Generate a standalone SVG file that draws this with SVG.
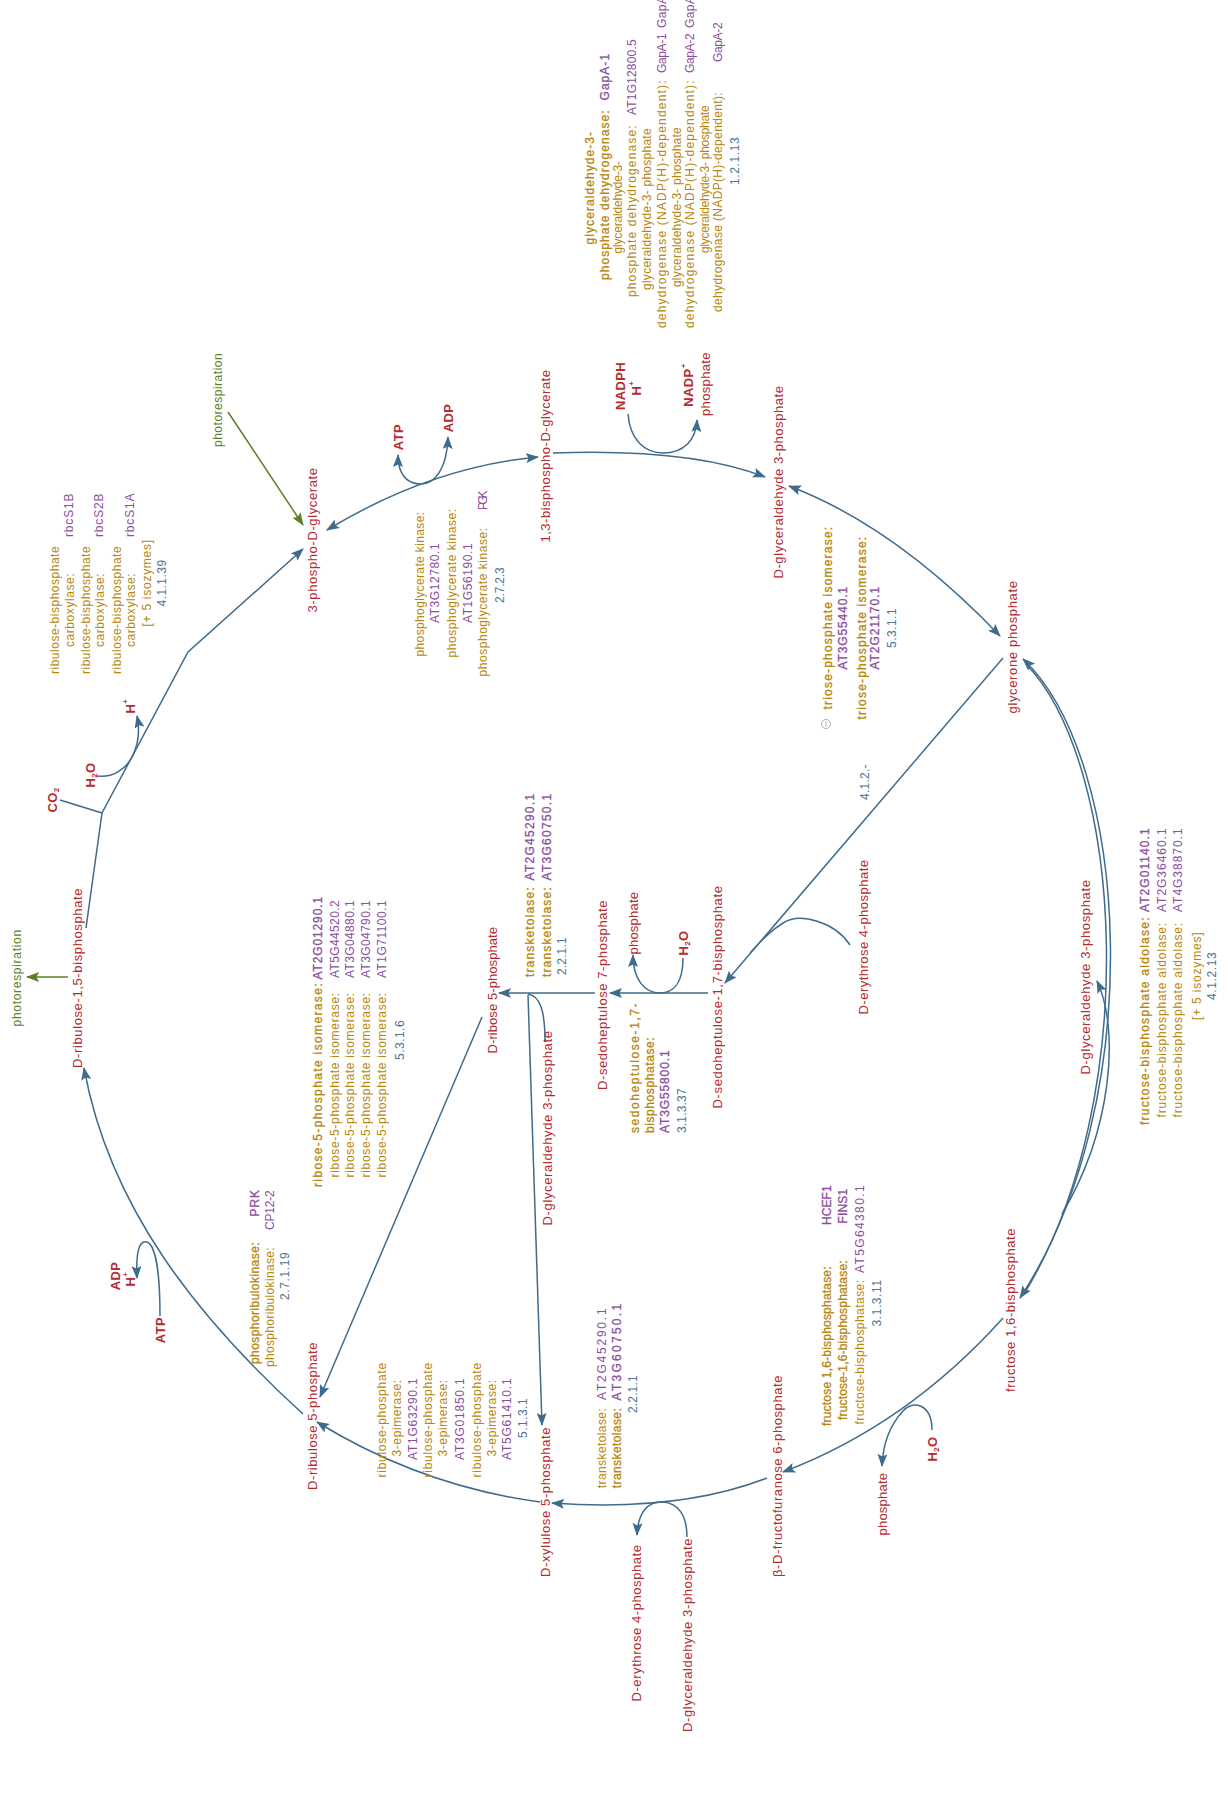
<svg xmlns="http://www.w3.org/2000/svg" width="1228" height="1805" viewBox="0 0 1228 1805">
<style>
text{font-family:"Liberation Sans",Arial,sans-serif;text-anchor:middle;dominant-baseline:central}
.c{font-size:13px;fill:#b42b30;letter-spacing:.5px}
.cb{font-size:13px;fill:#b42b30;font-weight:bold;letter-spacing:.4px}
.e{font-size:12px;fill:#b8860b;letter-spacing:.4px}
.g{font-size:12px;fill:#8a4f9e;letter-spacing:.4px}
.n{font-size:12px;fill:#4e7498;letter-spacing:.4px}
.e.b{stroke:#b8860b;stroke-width:.3px}
.g.b{stroke:#8a4f9e;stroke-width:.3px}
.s{text-anchor:start}
.gr{font-size:12px;fill:#5b7f24;letter-spacing:.3px}
.ln{fill:none;stroke:#3f6b8c;stroke-width:1.5}
.ae{marker-end:url(#a)}
.as{marker-start:url(#a)}
.gl{fill:none;stroke:#5b7f24;stroke-width:1.5;marker-end:url(#ga)}
</style>
<defs>
<marker id="a" viewBox="0 0 13 10" refX="12" refY="5" markerWidth="13" markerHeight="10" markerUnits="userSpaceOnUse" orient="auto-start-reverse"><path d="M0,0 L13,5 L0,10 L2.5,5 z" fill="#3f6b8c"/></marker>
<marker id="ga" viewBox="0 0 13 10" refX="12" refY="5" markerWidth="13" markerHeight="10" markerUnits="userSpaceOnUse" orient="auto"><path d="M0,0 L13,5 L0,10 L2.5,5 z" fill="#5b7f24"/></marker>
</defs>
<rect width="1228" height="1805" fill="#fff"/>

<g id="connectors">
<path class="ln ae" d="M86,928 L102,813 L188,652 L303,549"/>
<path class="ln" d="M60,800 L102,813"/>
<path class="ln ae" d="M97,776 C112,778 126,770 133,755 C139,742 140,730 137,716"/>
<path class="gl" d="M228,412 L303,525"/>
<path class="gl" d="M68,977 L27,977"/>
<path class="ln as ae" d="M327,530 Q431,467 538,457"/>
<path class="ln as ae" d="M398,455 C398,478 410,484 421,484 C434,484 447,470 448,437"/>
<path class="ln ae" d="M553,453 Q690,448 765,477"/>
<path class="ln ae" d="M628,414 C630,440 645,453 663,453 C684,453 696,440 697,420"/>
<path class="ln as ae" d="M789,486 Q895,526 1000,636"/>
<path class="ln as ae" d="M1023,659 C1130,760 1150,1100 1020,1298"/>
<path class="ln" d="M1026,664 C1124,765 1143,1100 1024,1294"/>
<path class="ln as" d="M1097,981 C1120,1030 1112,1130 1062,1214"/>
<path class="ln ae" d="M1003,1318 Q907,1425 783,1472"/>
<path class="ln ae" d="M932,1430 C932,1403 912,1400 903,1411 C890,1425 883,1442 882,1466"/>
<path class="ln ae" d="M767,1478 Q680,1512 552,1503"/>
<path class="ln ae" d="M687,1537 C687,1515 678,1503 663,1502 C648,1501 638,1512 637,1535"/>
<path class="ln ae" d="M540,1502 Q421,1486 317,1422"/>
<path class="ln ae" d="M303,1414 C200,1320 110,1210 84,1068"/>
<path class="ln ae" d="M160,1316 C160,1270 155,1245 147,1242 C138,1240 136,1255 137,1278"/>
<path class="ln ae" d="M1003,658 L725,983"/>
<path class="ln" d="M850,945 C835,922 800,912 783,923 C770,931 760,942 750,953"/>
<path class="ln ae" d="M708,993 L610,993"/>
<path class="ln ae" d="M683,958 C683,985 672,993 660,993 C645,993 633,980 633,955"/>
<path class="ln ae" d="M595,993 L499,993"/>
<path class="ln" d="M545,1042 C545,1010 540,996 528,994"/>
<path class="ln ae" d="M528,995 L542,1425"/>
<path class="ln ae" d="M482,1017 L320,1397"/>
</g>

<g id="cpd-3pg"><text class="c" transform="translate(312,540) rotate(-90)" textLength="145">3-phospho-D-glycerate</text></g>
<g id="cpd-13bpg"><text class="c" transform="translate(545,456) rotate(-90)" textLength="173">1,3-bisphospho-D-glycerate</text></g>
<g id="cpd-gap1"><text class="c" transform="translate(778,482) rotate(-90)" textLength="193">D-glyceraldehyde 3-phosphate</text></g>
<g id="cpd-dhap"><text class="c" transform="translate(1012,647) rotate(-90)" textLength="133">glycerone phosphate</text></g>
<g id="cpd-gap2"><text class="c" transform="translate(1085,977) rotate(-90)" textLength="195">D-glyceraldehyde 3-phosphate</text></g>
<g id="cpd-fbp"><text class="c" transform="translate(1010,1310) rotate(-90)" textLength="164">fructose 1,6-bisphosphate</text></g>
<g id="cpd-f6p"><text class="c" transform="translate(777,1476) rotate(-90)" textLength="202">β-D-fructofuranose 6-phosphate</text></g>
<g id="cpd-pi1"><text class="c" transform="translate(882,1504) rotate(-90)" textLength="63">phosphate</text></g>
<g id="cpd-h2o1"><text class="cb" transform="translate(932,1449) rotate(-90)">H<tspan font-size="8" baseline-shift="sub">2</tspan>O</text></g>
<g id="cpd-xu5p"><text class="c" transform="translate(545,1502) rotate(-90)" textLength="150">D-xylulose 5-phosphate</text></g>
<g id="cpd-e4p1"><text class="c" transform="translate(636,1623) rotate(-90)" textLength="157">D-erythrose 4-phosphate</text></g>
<g id="cpd-gap3"><text class="c" transform="translate(687,1635) rotate(-90)" textLength="194">D-glyceraldehyde 3-phosphate</text></g>
<g id="cpd-ru5p"><text class="c" transform="translate(312,1416) rotate(-90)" textLength="148">D-ribulose 5-phosphate</text></g>
<g id="cpd-atp2"><text class="cb" transform="translate(160,1330) rotate(-90)">ATP</text></g>
<g id="cpd-adp2"><text class="cb" transform="translate(115,1276) rotate(-90)">ADP</text><text class="cb" transform="translate(130,1279) rotate(-90)">H<tspan font-size="8" baseline-shift="super">+</tspan></text></g>
<g id="cpd-rubp"><text class="c" transform="translate(77,978) rotate(-90)" textLength="180">D-ribulose-1,5-bisphosphate</text></g>
<g id="photoresp1"><text class="gr" transform="translate(17,978) rotate(-90)" textLength="97">photorespiration</text></g>
<g id="cpd-co2"><text class="cb" transform="translate(52,800) rotate(-90)">CO<tspan font-size="8" baseline-shift="sub">2</tspan></text></g>
<g id="cpd-h2o2"><text class="cb" transform="translate(90,775) rotate(-90)">H<tspan font-size="8" baseline-shift="sub">2</tspan>O</text></g>
<g id="cpd-h1"><text class="cb" transform="translate(130,706) rotate(-90)">H<tspan font-size="8" baseline-shift="super">+</tspan></text></g>
<g id="photoresp2"><text class="gr" transform="translate(218,400) rotate(-90)" textLength="94">photorespiration</text></g>
<g id="cpd-atp1"><text class="cb" transform="translate(398,437) rotate(-90)">ATP</text></g>
<g id="cpd-adp1"><text class="cb" transform="translate(448,418) rotate(-90)">ADP</text></g>
<g id="cpd-nadph"><text class="cb" transform="translate(620,386) rotate(-90)">NADPH</text><text class="cb" transform="translate(636,388) rotate(-90)">H<tspan font-size="8" baseline-shift="super">+</tspan></text></g>
<g id="cpd-nadp"><text class="cb" transform="translate(688,385) rotate(-90)">NADP<tspan font-size="8" baseline-shift="super">+</tspan></text><text class="c" transform="translate(705,384) rotate(-90)" textLength="64">phosphate</text></g>
<g id="cpd-s7p"><text class="c" transform="translate(602,995) rotate(-90)" textLength="190">D-sedoheptulose 7-phosphate</text></g>
<g id="cpd-pi2"><text class="c" transform="translate(633,923) rotate(-90)" textLength="63">phosphate</text></g>
<g id="cpd-h2o3"><text class="cb" transform="translate(683,943) rotate(-90)">H<tspan font-size="8" baseline-shift="sub">2</tspan>O</text></g>
<g id="cpd-sbp"><text class="c" transform="translate(717,997) rotate(-90)" textLength="223">D-sedoheptulose-1,7-bisphosphate</text></g>
<g id="cpd-e4p2"><text class="c" transform="translate(863,937) rotate(-90)" textLength="155">D-erythrose 4-phosphate</text></g>
<g id="cpd-r5p"><text class="c" transform="translate(492,990) rotate(-90)" textLength="127">D-ribose 5-phosphate</text></g>
<g id="cpd-gap4"><text class="c" transform="translate(547,1128) rotate(-90)" textLength="195">D-glyceraldehyde 3-phosphate</text></g>

<g id="enz-rubisco">
<text class="e" transform="translate(55,610) rotate(-90)" textLength="128">ribulose-bisphosphate</text>
<text class="e" transform="translate(70,610) rotate(-90)" textLength="74">carboxylase:</text>
<text class="g" transform="translate(69,515) rotate(-90)" textLength="44">rbcS1B</text>
<text class="e" transform="translate(86,610) rotate(-90)" textLength="128">ribulose-bisphosphate</text>
<text class="e" transform="translate(100,610) rotate(-90)" textLength="74">carboxylase:</text>
<text class="g" transform="translate(99,515) rotate(-90)" textLength="44">rbcS2B</text>
<text class="e" transform="translate(117,610) rotate(-90)" textLength="128">ribulose-bisphosphate</text>
<text class="e" transform="translate(131,610) rotate(-90)" textLength="74">carboxylase:</text>
<text class="g" transform="translate(130,515) rotate(-90)" textLength="44">rbcS1A</text>
<text class="e" transform="translate(147,583) rotate(-90)" textLength="87">[+ 5 isozymes]</text>
<text class="n" transform="translate(162,583) rotate(-90)" textLength="47">4.1.1.39</text>
</g>

<g id="enz-pgk">
<text class="e" transform="translate(420,584) rotate(-90)" textLength="145">phosphoglycerate kinase:</text>
<text class="g" transform="translate(435,583) rotate(-90)" textLength="80">AT3G12780.1</text>
<text class="e" transform="translate(452,583) rotate(-90)" textLength="149">phosphoglycerate kinase:</text>
<text class="g" transform="translate(468,583) rotate(-90)" textLength="80">AT1G56190.1</text>
<text class="e" transform="translate(483,602) rotate(-90)" textLength="149">phosphoglycerate kinase:</text>
<text class="g" transform="translate(483,500) rotate(-90)" textLength="20">PGK</text>
<text class="n" transform="translate(500,585) rotate(-90)" textLength="36">2.7.2.3</text>
</g>

<g id="enz-gapdh">
<text class="e b" transform="translate(590,188) rotate(-90)" textLength="113">glyceraldehyde-3-</text>
<text class="e b" transform="translate(605,195) rotate(-90)" textLength="170">phosphate dehydrogenase:</text>
<text class="g b" transform="translate(605,77) rotate(-90)" textLength="47">GapA-1</text>
<text class="e" transform="translate(618,207) rotate(-90)" textLength="93">glyceraldehyde-3-</text>
<text class="e" transform="translate(632,211) rotate(-90)" textLength="172">phosphate dehydrogenase:</text>
<text class="g" transform="translate(632,77) rotate(-90)" textLength="76">AT1G12800.5</text>
<text class="e" transform="translate(647,209) rotate(-90)" textLength="162">glyceraldehyde-3- phosphate</text>
<text class="e" transform="translate(662,204) rotate(-90)" textLength="248">dehydrogenase (NADP(H)-dependent):</text>
<text class="g" transform="translate(662,53) rotate(-90)" textLength="40">GapA-1</text>
<text class="g s" transform="translate(662,28) rotate(-90)">GapA</text>
<text class="e" transform="translate(677,207) rotate(-90)" textLength="160">glyceraldehyde-3- phosphate</text>
<text class="e" transform="translate(690,204) rotate(-90)" textLength="248">dehydrogenase (NADP(H)-dependent):</text>
<text class="g" transform="translate(690,53) rotate(-90)" textLength="40">GapA-2</text>
<text class="g s" transform="translate(690,28) rotate(-90)">GapA</text>
<text class="e" transform="translate(705,179) rotate(-90)" textLength="148">glyceraldehyde-3- phosphate</text>
<text class="e" transform="translate(718,202) rotate(-90)" textLength="220">dehydrogenase (NADP(H)-dependent):</text>
<text class="g" transform="translate(718,42) rotate(-90)" textLength="40">GapA-2</text>
<text class="n" transform="translate(735,161) rotate(-90)" textLength="48">1.2.1.13</text>
</g>

<g id="enz-tpi">
<circle cx="826" cy="724" r="4.5" fill="none" stroke="#b0b0b0" stroke-width="1"/>
<path d="M826,721.5 V726.5" stroke="#b0b0b0" stroke-width="1"/>
<text class="e b" transform="translate(828,618) rotate(-90)" textLength="183">triose-phosphate isomerase:</text>
<text class="g b" transform="translate(843,628) rotate(-90)" textLength="83">AT3G55440.1</text>
<text class="e b" transform="translate(862,628) rotate(-90)" textLength="183">triose-phosphate isomerase:</text>
<text class="g b" transform="translate(875,628) rotate(-90)" textLength="83">AT2G21170.1</text>
<text class="n" transform="translate(892,628) rotate(-90)" textLength="40">5.3.1.1</text>
</g>

<g id="enz-sbpald"><text class="n" transform="translate(865,782) rotate(-90)" textLength="36">4.1.2.-</text></g>

<g id="enz-tk1">
<text class="e b" transform="translate(530,932) rotate(-90)" textLength="90">transketolase:</text>
<text class="g b" transform="translate(530,837) rotate(-90)" textLength="87">AT2G45290.1</text>
<text class="e b" transform="translate(547,932) rotate(-90)" textLength="90">transketolase:</text>
<text class="g b" transform="translate(547,837) rotate(-90)" textLength="87">AT3G60750.1</text>
<text class="n" transform="translate(562,956) rotate(-90)" textLength="38">2.2.1.1</text>
</g>

<g id="enz-sbpase">
<text class="e b s" transform="translate(635,1133) rotate(-90)" textLength="130">sedoheptulose-1,7-</text>
<text class="e b s" transform="translate(650,1133) rotate(-90)" textLength="96">bisphosphatase:</text>
<text class="g b s" transform="translate(665,1133) rotate(-90)" textLength="83">AT3G55800.1</text>
<text class="n s" transform="translate(682,1133) rotate(-90)" textLength="45">3.1.3.37</text>
</g>

<g id="enz-rpi">
<text class="e b" transform="translate(318,1085) rotate(-90)" textLength="204">ribose-5-phosphate isomerase:</text>
<text class="g b" transform="translate(318,938) rotate(-90)" textLength="83">AT2G01290.1</text>
<text class="e" transform="translate(335,1085) rotate(-90)" textLength="185">ribose-5-phosphate isomerase:</text>
<text class="g" transform="translate(335,939) rotate(-90)" textLength="78">AT5G44520.2</text>
<text class="e" transform="translate(350,1085) rotate(-90)" textLength="185">ribose-5-phosphate isomerase:</text>
<text class="g" transform="translate(350,939) rotate(-90)" textLength="78">AT3G04880.1</text>
<text class="e" transform="translate(366,1085) rotate(-90)" textLength="185">ribose-5-phosphate isomerase:</text>
<text class="g" transform="translate(366,939) rotate(-90)" textLength="78">AT3G04790.1</text>
<text class="e" transform="translate(382,1085) rotate(-90)" textLength="185">ribose-5-phosphate isomerase:</text>
<text class="g" transform="translate(382,939) rotate(-90)" textLength="78">AT1G71100.1</text>
<text class="n" transform="translate(400,1040) rotate(-90)" textLength="40">5.3.1.6</text>
</g>

<g id="enz-prk">
<text class="e b" transform="translate(255,1303) rotate(-90)" textLength="122">phosphoribulokinase:</text>
<text class="g b" transform="translate(255,1203) rotate(-90)" textLength="27">PRK</text>
<text class="e" transform="translate(270,1307) rotate(-90)" textLength="120">phosphoribulokinase:</text>
<text class="g" transform="translate(270,1210) rotate(-90)" textLength="40">CP12-2</text>
<text class="n" transform="translate(285,1276) rotate(-90)" textLength="48">2.7.1.19</text>
</g>

<g id="enz-rpe">
<text class="e" transform="translate(382,1420) rotate(-90)" textLength="115">ribulose-phosphate</text>
<text class="e" transform="translate(397,1418) rotate(-90)" textLength="77">3-epimerase:</text>
<text class="g" transform="translate(413,1419) rotate(-90)" textLength="82">AT1G63290.1</text>
<text class="e" transform="translate(428,1420) rotate(-90)" textLength="115">ribulose-phosphate</text>
<text class="e" transform="translate(443,1418) rotate(-90)" textLength="77">3-epimerase:</text>
<text class="g" transform="translate(460,1419) rotate(-90)" textLength="82">AT3G01850.1</text>
<text class="e" transform="translate(477,1420) rotate(-90)" textLength="115">ribulose-phosphate</text>
<text class="e" transform="translate(492,1418) rotate(-90)" textLength="77">3-epimerase:</text>
<text class="g" transform="translate(507,1419) rotate(-90)" textLength="82">AT5G61410.1</text>
<text class="n" transform="translate(523,1418) rotate(-90)" textLength="40">5.1.3.1</text>
</g>

<g id="enz-tk2">
<text class="e" transform="translate(602,1448) rotate(-90)">transketolase:</text>
<text class="g" transform="translate(602,1354) rotate(-90)" textLength="92">AT2G45290.1</text>
<text class="e b" transform="translate(617,1448) rotate(-90)">transketolase:</text>
<text class="g b" transform="translate(617,1352) rotate(-90)" textLength="97">AT3G60750.1</text>
<text class="n" transform="translate(633,1394) rotate(-90)" textLength="38">2.2.1.1</text>
</g>

<g id="enz-fbpase">
<text class="e b" transform="translate(827,1346) rotate(-90)" textLength="160">fructose 1,6-bisphosphatase:</text>
<text class="g b" transform="translate(827,1205) rotate(-90)" textLength="40">HCEF1</text>
<text class="e b" transform="translate(843,1340) rotate(-90)" textLength="160">fructose-1,6-bisphosphatase:</text>
<text class="g b" transform="translate(843,1206) rotate(-90)" textLength="35">FINS1</text>
<text class="e" transform="translate(860,1352) rotate(-90)" textLength="145">fructose-bisphosphatase:</text>
<text class="g" transform="translate(860,1229) rotate(-90)" textLength="88">AT5G64380.1</text>
<text class="n" transform="translate(877,1303) rotate(-90)" textLength="47">3.1.3.11</text>
</g>

<g id="enz-fba">
<text class="e b" transform="translate(1145,1021) rotate(-90)" textLength="208">fructose-bisphosphate aldolase:</text>
<text class="g b" transform="translate(1145,870) rotate(-90)" textLength="84">AT2G01140.1</text>
<text class="e" transform="translate(1162,1020) rotate(-90)" textLength="195">fructose-bisphosphate aldolase:</text>
<text class="g" transform="translate(1162,870) rotate(-90)" textLength="84">AT2G36460.1</text>
<text class="e" transform="translate(1178,1020) rotate(-90)" textLength="195">fructose-bisphosphate aldolase:</text>
<text class="g" transform="translate(1178,870) rotate(-90)" textLength="84">AT4G38870.1</text>
<text class="e" transform="translate(1197,976) rotate(-90)" textLength="88">[+ 5 isozymes]</text>
<text class="n" transform="translate(1212,976) rotate(-90)" textLength="48">4.1.2.13</text>
</g>
</svg>
